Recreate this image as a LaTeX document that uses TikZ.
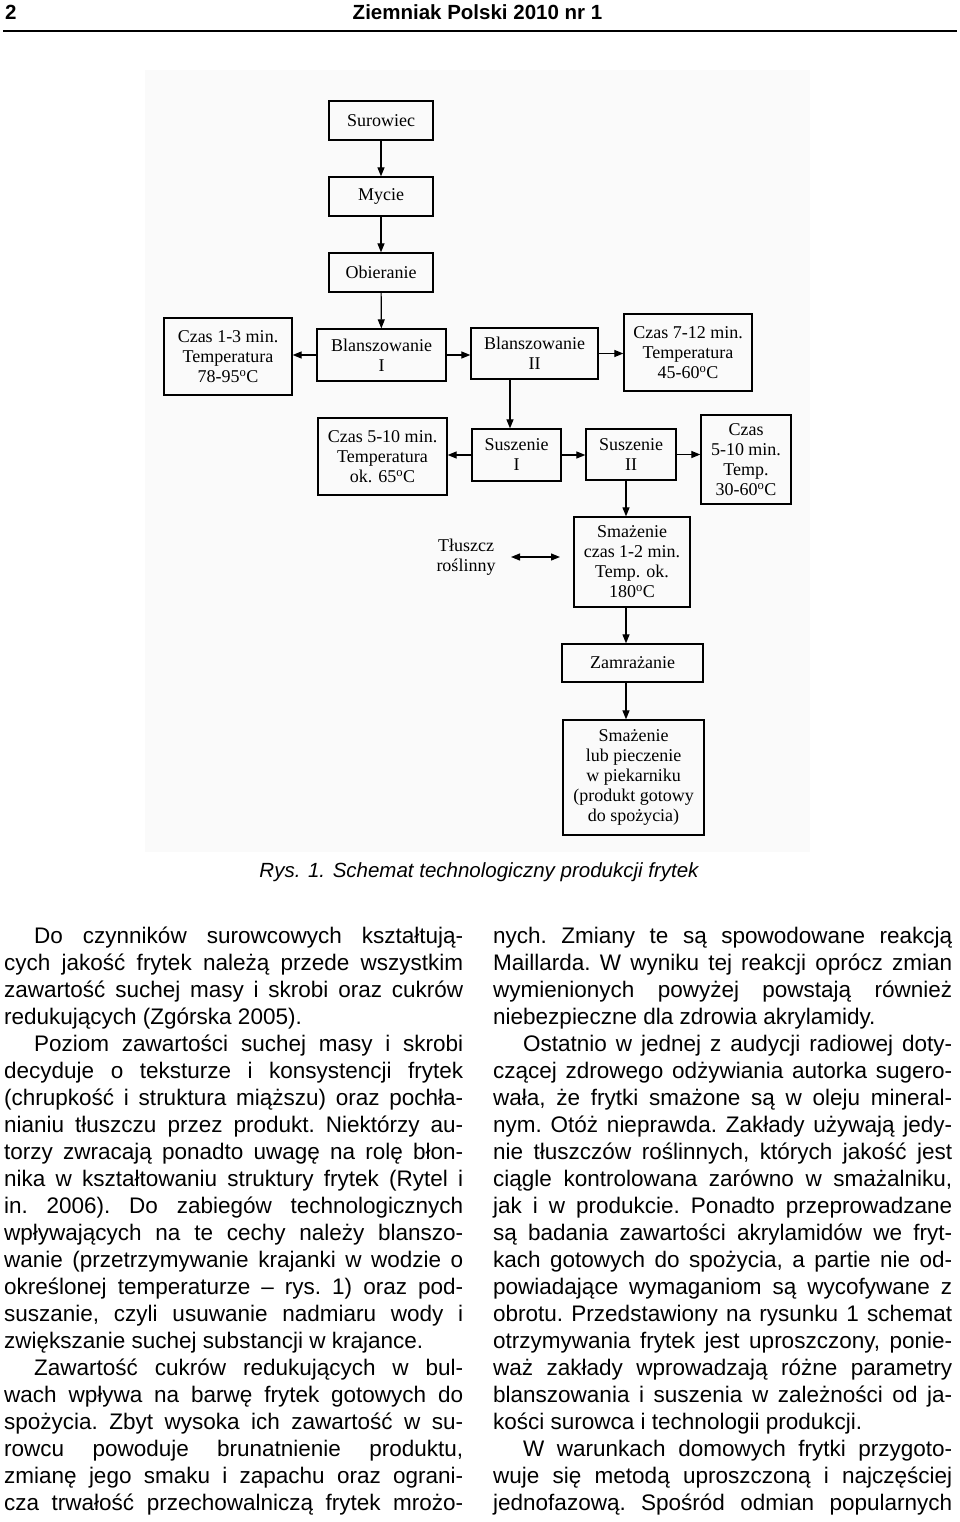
\documentclass[tikz,border=0pt]{standalone}
\usepackage{fontspec}
\setmainfont{Liberation Sans}
\newfontfamily\diagfont{Liberation Serif}
\usetikzlibrary{arrows.meta}
\tikzset{
  box/.style={draw, line width=1.3pt, inner sep=0pt, align=center, font=\diagfont\fontsize{18}{20}\selectfont},
  flow/.style={line width=1.2pt, -{Triangle[length=9pt,width=7pt]}},
  both/.style={line width=1.2pt, {Triangle[length=9pt,width=7pt]}-{Triangle[length=9pt,width=7pt]}}
}
\newcommand\parstart{\hspace*{30pt}}
\newcommand\colsetup{\fontsize{22.5}{27}\selectfont\frenchspacing\parindent=0pt\tolerance=10000\hyphenpenalty=10000\emergencystretch=0pt}
\begin{document}
\begin{tikzpicture}[x=1pt,y=-1pt]
\useasboundingbox (0,0) rectangle (960,1522);
\fill[black!2] (145,70) rectangle (810,852);
\node[anchor=base west,inner sep=0pt,font=\bfseries\fontsize{20.5}{24}\selectfont] (pg) at (5,19.5) {2};
\node[anchor=base,inner sep=0pt,font=\bfseries\fontsize{20.5}{24}\selectfont] (jt) at (477.5,19.5) {Ziemniak Polski 2010 nr 1};
\draw[line width=2pt] (3,31.5) -- (957,31.5);

\node[box,minimum width=104pt,minimum height=39pt] (sur) at (381,120.5) {Surowiec};
\node[box,minimum width=104pt,minimum height=39pt] (myc) at (381,196.5) {Mycie};
\node[box,minimum width=104pt,minimum height=39pt] (obi) at (381,272.5) {Obieranie};
\node[box,minimum width=129pt,minimum height=52pt] (bl1) at (381.5,355) {Blanszowanie\\I};
\node[box,minimum width=127pt,minimum height=51pt] (bl2) at (534.5,353.5) {Blanszowanie\\II};
\node[box,minimum width=128pt,minimum height=77pt] (cz1) at (228,356.5) {Czas 1-3 min.\\Temperatura\\78-95\textsuperscript{o}C};
\node[box,minimum width=128pt,minimum height=77pt] (cz2) at (688,352.5) {Czas 7-12 min.\\Temperatura\\45-60\textsuperscript{o}C};
\node[box,minimum width=89pt,minimum height=52pt] (su1) at (516.5,455) {Suszenie\\I};
\node[box,minimum width=90pt,minimum height=51pt] (su2) at (631,454.5) {Suszenie\\II};
\node[box,minimum width=129pt,minimum height=77pt] (cz3) at (382.5,456.5) {Czas 5-10 min.\\Temperatura\\ok. 65\textsuperscript{o}C};
\node[box,minimum width=90pt,minimum height=89pt] (cz4) at (746,459.5) {Czas\\5-10 min.\\Temp.\\30-60\textsuperscript{o}C};
\node[box,minimum width=116pt,minimum height=90pt] (smz) at (632,562) {Smażenie\\czas 1-2 min.\\Temp. ok.\\180\textsuperscript{o}C};
\node[align=center,inner sep=0pt,font=\diagfont\fontsize{18}{20}\selectfont] (tlu) at (466,557) {Tłuszcz\\roślinny};
\node[box,minimum width=141pt,minimum height=38pt] (zam) at (632.5,663) {Zamrażanie};
\node[box,minimum width=141pt,minimum height=115pt] (fin) at (633.5,777.5) {Smażenie\\lub pieczenie\\w piekarniku\\(produkt gotowy\\do spożycia)};

\coordinate (dx) at (510,0);
\coordinate (ex) at (626,0);
\coordinate (fa) at (511,557);
\coordinate (fb) at (560,557);
\draw[flow] (sur) -- (myc);
\draw[flow] (myc) -- (obi);
\draw[flow] (obi) -- (bl1);
\draw[flow] (bl1.west) -- (cz1.east |- bl1.west);
\draw[flow] (bl1.east) -- (bl2.west |- bl1.east);
\draw[flow] (bl2.east) -- (cz2.west |- bl2.east);
\draw[flow] (bl2.south -| dx) -- (su1.north -| dx);
\draw[flow] (su1.west) -- (cz3.east |- su1.west);
\draw[flow] (su1.east) -- (su2.west |- su1.east);
\draw[flow] (su2.east) -- (cz4.west |- su2.east);
\draw[flow] (su2.south -| ex) -- (smz.north -| ex);
\draw[both] (fa) -- (fb);
\draw[flow] (smz.south -| ex) -- (zam.north -| ex);
\draw[flow] (zam.south -| ex) -- (fin.north -| ex);

\node[anchor=base,inner sep=0pt,font=\itshape\fontsize{20.5}{24}\selectfont] (cap) at (479,877) {Rys. 1. Schemat technologiczny produkcji frytek};

\node[anchor=base west,inner sep=0pt] (colL) at (4,943.5) {\begin{minipage}[t]{459pt}\colsetup
\parstart Do czynników surowcowych kształtują-\break cych jakość frytek należą przede wszystkim\break zawartość suchej masy i skrobi oraz cukrów\break redukujących (Zgórska 2005).\par
\parstart Poziom zawartości suchej masy i skrobi\break decyduje o teksturze i konsystencji frytek\break (chrupkość i struktura miąższu) oraz pochła-\break nianiu tłuszczu przez produkt. Niektórzy au-\break torzy zwracają ponadto uwagę na rolę błon-\break nika w kształtowaniu struktury frytek (Rytel i\break in. 2006). Do zabiegów technologicznych\break wpływających na te cechy należy blanszo-\break wanie (przetrzymywanie krajanki w wodzie o\break określonej temperaturze -- rys. 1) oraz pod-\break suszanie, czyli usuwanie nadmiaru wody i\break zwiększanie suchej substancji w krajance.\par
\parstart Zawartość cukrów redukujących w bul-\break wach wpływa na barwę frytek gotowych do\break spożycia. Zbyt wysoka ich zawartość w su-\break rowcu powoduje brunatnienie produktu,\break zmianę jego smaku i zapachu oraz ograni-\break cza trwałość przechowalniczą frytek mrożo-{\parfillskip=0pt\par}
\end{minipage}};

\node[anchor=base west,inner sep=0pt] (colR) at (493,943.5) {\begin{minipage}[t]{459pt}\colsetup
nych. Zmiany te są spowodowane reakcją\break Maillarda. W wyniku tej reakcji oprócz zmian\break wymienionych powyżej powstają również\break niebezpieczne dla zdrowia akrylamidy.\par
\parstart Ostatnio w jednej z audycji radiowej doty-\break czącej zdrowego odżywiania autorka sugero-\break wała, że frytki smażone są w oleju mineral-\break nym. Otóż nieprawda. Zakłady używają jedy-\break nie tłuszczów roślinnych, których jakość jest\break ciągle kontrolowana zarówno w smażalniku,\break jak i w produkcie. Ponadto przeprowadzane\break są badania zawartości akrylamidów we fryt-\break kach gotowych do spożycia, a partie nie od-\break powiadające wymaganiom są wycofywane z\break obrotu. Przedstawiony na rysunku 1 schemat\break otrzymywania frytek jest uproszczony, ponie-\break waż zakłady wprowadzają różne parametry\break blanszowania i suszenia w zależności od ja-\break kości surowca i technologii produkcji.\par
\parstart W warunkach domowych frytki przygoto-\break wuje się metodą uproszczoną i najczęściej\break jednofazową. Spośród odmian popularnych{\parfillskip=0pt\par}
\end{minipage}};
\end{tikzpicture}
\end{document}
